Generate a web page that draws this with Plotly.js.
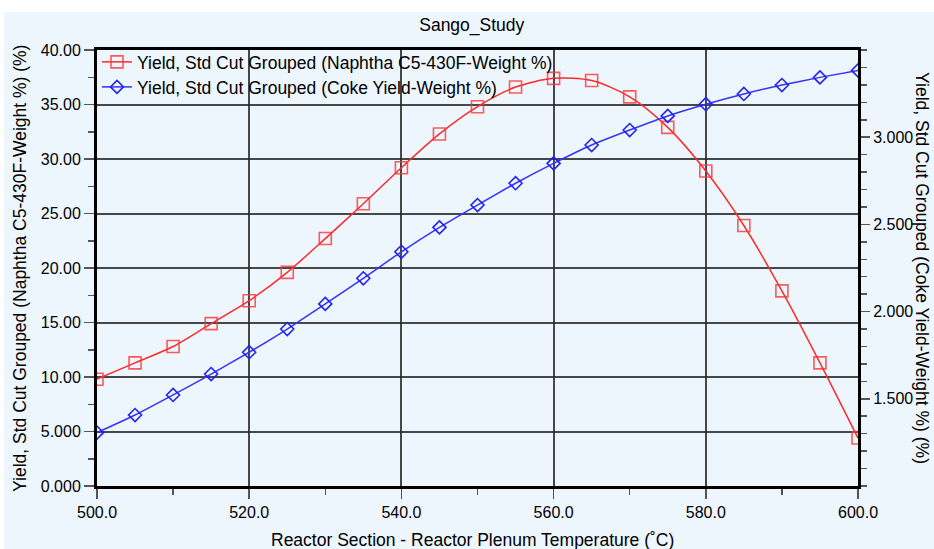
<!DOCTYPE html>
<html>
<head>
<meta charset="utf-8">
<script src="https://cdn.plot.ly/plotly-3.0.1.min.js"></script>
<style>
  html, body { margin: 0; padding: 0; background: #ffffff; width: 934px; height: 549px; overflow: hidden; }
  #chart { position: absolute; left: 4px; top: 12px; width: 930px; height: 537px; }
</style>
</head>
<body>
<div id="chart"></div>
<script>
// Data
const temperature = [500, 505, 510, 515, 520, 525, 530, 535, 540, 545, 550, 555, 560, 565, 570, 575, 580, 585, 590, 595, 600];
const naphthaYield = [9.8, 11.3, 12.8, 14.9, 17.0, 19.6, 22.7, 25.9, 29.2, 32.3, 34.8, 36.6, 37.4, 37.2, 35.7, 32.9, 28.9, 23.9, 17.9, 11.3, 4.4];
const cokeYield = [1.306, 1.407, 1.522, 1.642, 1.767, 1.900, 2.044, 2.191, 2.343, 2.483, 2.611, 2.736, 2.850, 2.955, 3.041, 3.122, 3.189, 3.248, 3.299, 3.343, 3.383];

const naphthaName = 'Yield, Std Cut Grouped (Naphtha C5-430F-Weight %)';
const cokeName = 'Yield, Std Cut Grouped (Coke Yield-Weight %)';
const chartTitle = 'Sango_Study';
const xTitle = 'Reactor Section - Reactor Plenum Temperature (˚C)';
const yLeftTitle = 'Yield, Std Cut Grouped (Naphtha C5-430F-Weight %) (%)';
const yRightTitle = 'Yield, Std Cut Grouped (Coke Yield-Weight %) (%)';
const rightTickVals = [1.5, 2.0, 2.5, 3.0];

const FONT = 'Liberation Sans, Arial, sans-serif';
const TXT = 17.5;
const BG = '#EEF6FD';
const GRID = 'rgba(40,40,40,0.85)';
const TICKC = '#555555';

const traces = [
  {
    x: temperature, y: naphthaYield, name: naphthaName,
    type: 'scatter', mode: 'lines+markers',
    line: { color: '#FF2A2A', width: 1.5, shape: 'spline', smoothing: 0.8 },
    marker: { symbol: 'square-open', size: 12, color: 'rgba(255,50,50,0.8)', line: { width: 1.6 } },
    legend: 'legend', yaxis: 'y', hoverinfo: 'skip'
  },
  {
    x: temperature, y: cokeYield, name: cokeName,
    type: 'scatter', mode: 'lines+markers',
    line: { color: '#3333FF', width: 1.5, shape: 'spline', smoothing: 0.6 },
    marker: { symbol: 'diamond-open', size: 10, color: '#2222EE', line: { width: 1.6 } },
    legend: 'legend2', yaxis: 'y2', hoverinfo: 'skip'
  }
];

const layout = {
  width: 930, height: 537,
  margin: { l: 93, r: 76, t: 38, b: 63, pad: 0 },
  paper_bgcolor: BG, plot_bgcolor: BG,
  font: { family: FONT, size: 16, color: '#000000' },
  showlegend: true,
  title: { text: chartTitle, font: { family: FONT, size: TXT, color: '#000' },
           xref: 'container', yref: 'container', x: 0.503, y: 0.976, xanchor: 'center', yanchor: 'middle' },
  xaxis: {
    range: [500, 600], tickmode: 'linear', tick0: 500, dtick: 20, tickformat: '.4r',
    ticks: 'outside', ticklen: 10, tickwidth: 1.5, tickcolor: TICKC,
    showgrid: true, gridcolor: GRID, gridwidth: 2, zeroline: false,
    showline: true, linecolor: '#000', linewidth: 3, mirror: true,
    tickfont: { family: FONT, size: 16, color: '#000' },
    minor: { tickmode: 'linear', tick0: 500, dtick: 10, ticks: 'outside', ticklen: 6, tickwidth: 1.5, tickcolor: TICKC, showgrid: false }
  },
  yaxis: {
    range: [0, 40], tickmode: 'linear', tick0: 0, dtick: 5, tickformat: '.4r',
    ticks: 'outside', ticklen: 10, tickwidth: 1.5, tickcolor: TICKC,
    showgrid: true, gridcolor: GRID, gridwidth: 2, zeroline: false,
    showline: true, linecolor: '#000', linewidth: 3, mirror: true,
    tickfont: { family: FONT, size: 16, color: '#000' },
    minor: { tickmode: 'linear', tick0: 0, dtick: 2.5, ticks: 'outside', ticklen: 6, tickwidth: 1.5, tickcolor: TICKC, showgrid: false }
  },
  yaxis2: {
    range: [1.0, 3.5], overlaying: 'y', side: 'right',
    tickmode: 'array', tickvals: rightTickVals, tickformat: '.4r',
    ticks: 'outside', ticklen: 9, tickwidth: 1.5, tickcolor: TICKC,
    showgrid: false, zeroline: false,
    showline: true, linecolor: '#000', linewidth: 3,
    tickfont: { family: FONT, size: 16, color: '#000' },
    minor: { tickmode: 'linear', tick0: 1.0, dtick: 0.1, ticks: 'outside', ticklen: 6, tickwidth: 1.5, tickcolor: TICKC, showgrid: false }
  },
  legend: {
    x: 0, y: 0.9725, xanchor: 'left', yanchor: 'middle',
    bgcolor: 'rgba(0,0,0,0)', borderwidth: 0,
    font: { family: FONT, size: TXT, color: '#000' }
  },
  legend2: {
    x: 0, y: 0.9151, xanchor: 'left', yanchor: 'middle',
    bgcolor: 'rgba(0,0,0,0)', borderwidth: 0,
    font: { family: FONT, size: TXT, color: '#000' }
  },
  annotations: [
    { text: xTitle, xref: 'paper', yref: 'paper', x: 0.4928, y: -0.1239, xanchor: 'center', yanchor: 'middle',
      showarrow: false, font: { family: FONT, size: TXT, color: '#000' } },
    { text: yLeftTitle, xref: 'paper', yref: 'paper', x: -0.1012, y: 0.5, xanchor: 'center', yanchor: 'middle',
      textangle: -90, showarrow: false, font: { family: FONT, size: TXT, color: '#000' } },
    { text: yRightTitle, xref: 'paper', yref: 'paper', x: 1.0841, y: 0.5, xanchor: 'center', yanchor: 'middle',
      textangle: 90, showarrow: false, font: { family: FONT, size: TXT, color: '#000' } }
  ]
};

Plotly.newPlot('chart', traces, layout, { displayModeBar: false, staticPlot: true });
</script>
</body>
</html>
